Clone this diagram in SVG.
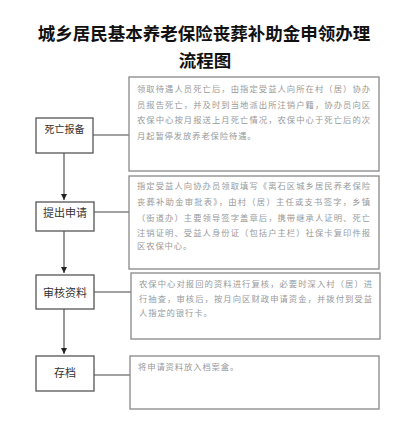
<svg xmlns="http://www.w3.org/2000/svg" width="412" height="440" viewBox="0 0 412 440">
<defs>
<marker id="arr" markerWidth="8" markerHeight="8" refX="6" refY="3" orient="auto" markerUnits="userSpaceOnUse">
<path d="M0,0 L6,3 L0,6 Z" fill="#222"/>
</marker>
<style>
.title{font-family:"Noto Sans CJK SC",sans-serif;font-weight:bold;font-size:17.5px;fill:#111;text-anchor:middle}
.step rect{fill:#fff;stroke:#555;stroke-width:1.3}
.step text{font-family:"Noto Sans CJK SC",sans-serif;font-size:11px;fill:#333;text-anchor:middle}
.desc rect{fill:#fff;stroke:#888;stroke-width:1.3}
.desc text{font-family:"Noto Sans CJK SC",sans-serif;font-size:8.3px;fill:#999;letter-spacing:0.9px}
.conn line{stroke:#444;stroke-width:1.1}
</style>
</defs>
<rect width="412" height="440" fill="#fff"/>
<g id="title">
<text class="title" x="204" y="40">城乡居民基本养老保险丧葬补助金申领办理</text>
<text class="title" x="205" y="67">流程图</text>
</g>
<g id="conn" class="conn">
<line x1="93" y1="135" x2="129" y2="135"/>
<line x1="94" y1="212" x2="129" y2="212"/>
<line x1="94" y1="292" x2="131" y2="292"/>
<line x1="94" y1="375" x2="130" y2="375"/>
<line x1="64" y1="153" x2="64" y2="200" marker-end="url(#arr)"/>
<line x1="64" y1="231" x2="64" y2="273" marker-end="url(#arr)"/>
<line x1="64" y1="309" x2="64" y2="354" marker-end="url(#arr)"/>
</g>
<g id="step1" class="step">
<rect x="36" y="118" width="57" height="35"/>
<text x="64.5" y="132.5" style="font-size:10px">死亡报备</text>
</g>
<g id="step2" class="step">
<rect x="36" y="202" width="58" height="29"/>
<text x="65" y="217">提出申请</text>
</g>
<g id="step3" class="step">
<rect x="36" y="275" width="58" height="34"/>
<text x="65" y="297">审核资料</text>
</g>
<g id="step4" class="step">
<rect x="36" y="356" width="58" height="35"/>
<text x="65" y="377">存档</text>
</g>
<g id="desc1" class="desc">
<rect x="129" y="77" width="250" height="94"/>
<text x="137" y="92" textLength="234" lengthAdjust="spacing">领取待遇人员死亡后，由指定受益人向所在村（居）协办</text>
<text x="137" y="107.5" textLength="234" lengthAdjust="spacing">员报告死亡，并及时到当地派出所注销户籍，协办员向区</text>
<text x="137" y="123" textLength="234" lengthAdjust="spacing">农保中心按月报送上月死亡情况，农保中心于死亡后的次</text>
<text x="137" y="138.5">月起暂停发放养老保险待遇。</text>
</g>
<g id="desc2" class="desc">
<rect x="129" y="176" width="250" height="93"/>
<text x="137" y="189" textLength="234" lengthAdjust="spacing">指定受益人向协办员领取填写《离石区城乡居民养老保险</text>
<text x="137" y="205" textLength="234" lengthAdjust="spacing">丧葬补助金审批表》，由村（居）主任或支书签字，乡镇</text>
<text x="137" y="220.5" textLength="234" lengthAdjust="spacing">（街道办）主要领导签字盖章后，携带继承人证明、死亡</text>
<text x="137" y="236" textLength="234" lengthAdjust="spacing">注销证明、受益人身份证（包括户主栏）社保卡复印件报</text>
<text x="137" y="249">区农保中心。</text>
</g>
<g id="desc3" class="desc">
<rect x="131" y="273" width="249" height="66"/>
<text x="139" y="287" textLength="234" lengthAdjust="spacing">农保中心对报回的资料进行复核，必要时深入村（居）进</text>
<text x="139" y="302" textLength="234" lengthAdjust="spacing">行抽查，审核后，按月向区财政申请资金，并拨付到受益</text>
<text x="139" y="316">人指定的银行卡。</text>
</g>
<g id="desc4" class="desc">
<rect x="130" y="356" width="249" height="53"/>
<text x="138" y="370">将申请资料放入档案盒。</text>
</g>
</svg>
